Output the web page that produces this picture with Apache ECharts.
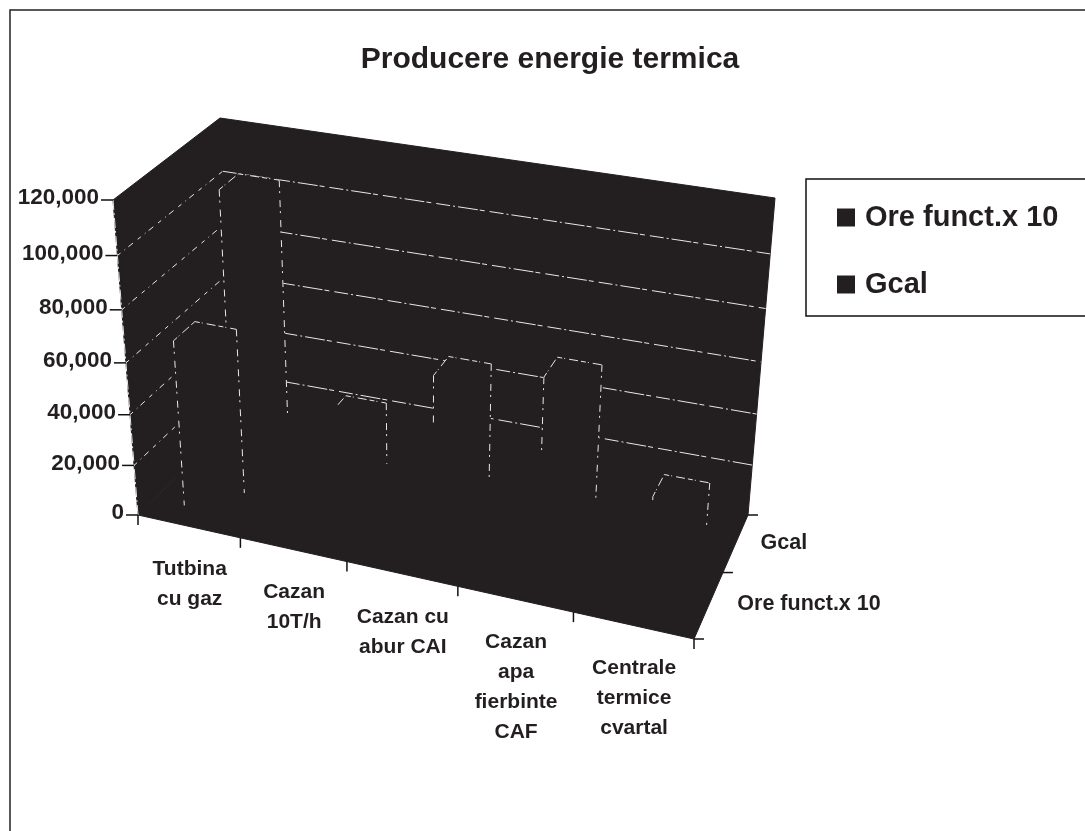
<!DOCTYPE html>
<html><head><meta charset="utf-8">
<style>html,body{margin:0;padding:0;background:#fff}#c{width:1085px;height:831px}</style>
<script src="https://cdn.jsdelivr.net/npm/echarts@6/dist/echarts.min.js"></script>
</head><body><div id="c"></div>
<script>
// ---- data ----
const categories = ['Tutbina\ncu gaz','Cazan\n10T/h','Cazan cu\nabur CAI','Cazan\napa\nfierbinte\nCAF','Centrale\ntermice\ncvartal'];
const seriesNames = ['Ore funct.x 10','Gcal'];
const oreValues  = [65000, 43000, 42000, 40000, 30000];
const gcalValues = [105000, 25000, 48000, 55000, 16800];
const oreOutlined  = [true, false, false, false, false];
const gcalOutlined = [true, true, true, true, true];
const valueTicks = [0,20000,40000,60000,80000,100000,120000];
const valueMax = 120000;

// ---- view of the 3-D box (camera, not data) ----
const view = {
  fl0:[138,515], fr0:[694,639], bl0:[235,420], br0:[748,515],
  fl1:[113,200], fr1:[718,308], bl1:[220,118], br1:[775,198]
};
const persp = (s,a)=> s*a/(1+(a-1)*s);
const mix = (p,q,t)=>[p[0]+(q[0]-p[0])*t, p[1]+(q[1]-p[1])*t];
function project(u,v,w){
  const fu = persp(u/categories.length,0.903), fv = persp(v/seriesNames.length,1.155), fw = persp(w/valueMax,0.934);
  const low = mix(mix(view.fl0,view.fr0,fu), mix(view.bl0,view.br0,fu), fv);
  const up  = mix(mix(view.fl1,view.fr1,fu), mix(view.bl1,view.br1,fu), fv);
  return mix(low,up,fw);
}
const INK = '#231f20', EDGE = '#e8e8e8';
const FONT = '"Liberation Sans", Arial, sans-serif';
const gap = 0.3;

function poly(api,pts,z){
  return {type:'polygon',shape:{points:pts.map(p=>api.coord(p))},style:{fill:INK,stroke:INK,lineWidth:1},z2:z||0};
}
function dashed(api,p,q,dash,w){
  const a=api.coord(p),b=api.coord(q);
  return {type:'line',shape:{x1:a[0],y1:a[1],x2:b[0],y2:b[1]},
    style:{stroke:EDGE,lineWidth:w||1,lineDash:dash||[5,2,1,4,9,3],fill:null},z2:5};
}
function barRender(row,values,outlined){
  return function(params,api){
    const i=params.dataIndex, val=api.value(1);
    const u0=i+gap,u1=i+1-gap,v0=row+gap,v1=row+1-gap;
    const b=(u,v)=>project(u,v,0), t=(u,v)=>project(u,v,val);
    const kids=[
      poly(api,[b(u0,v0),b(u0,v1),t(u0,v1),t(u0,v0)]),
      poly(api,[b(u0,v0),b(u1,v0),t(u1,v0),t(u0,v0)]),
      poly(api,[b(u1,v0),b(u1,v1),t(u1,v1),t(u1,v0)]),
      poly(api,[t(u0,v0),t(u1,v0),t(u1,v1),t(u0,v1)])
    ];
    if(outlined[i]){
      kids.push(dashed(api,t(u0,v0),t(u0,v1)));
      kids.push(dashed(api,t(u0,v1),t(u1,v1)));
      kids.push(dashed(api,t(u0,v0),b(u0,v0),[7,4,2,7]));
      kids.push(dashed(api,t(u1,v1),b(u1,v1),[7,4,2,7]));
    }
    return {type:'group',children:kids};
  };
}
function wallRender(params,api){
  const n=categories.length,d=seriesNames.length,M=valueMax;
  return {type:'group',children:[
    poly(api,[project(0,0,0),project(0,d,0),project(0,d,M),project(0,0,M)]),
    poly(api,[project(0,d,0),project(n,d,0),project(n,d,M),project(0,d,M)]),
    poly(api,[project(0,0,0),project(n,0,0),project(n,d,0),project(0,d,0)]),
    dashed(api,project(0,0,0),project(0,0,M),[10,3,2,3])
  ]};
}
function gridRender(params,api){
  const w=api.value(0),n=categories.length,d=seriesNames.length;
  return {type:'group',children:[
    dashed(api,project(0,0,w),project(0,d,w),[4,5,1,4,6,6]),
    dashed(api,project(0,d,w),project(n,d,w),[14,3,2,3,20,2,5,5])
  ]};
}
function axisRender(params,api){
  const n=categories.length,d=seriesNames.length,kids=[];
  const tick=(p,dx,dy)=>{const a=api.coord(p);return {type:'line',shape:{x1:a[0],y1:a[1],x2:a[0]+dx,y2:a[1]+dy},style:{stroke:'#111',lineWidth:1.5}};};
  const label=(p,dx,dy,text,align,size)=>{const a=api.coord(p);return {type:'text',x:a[0]+dx,y:a[1]+dy,
    style:{text:text,fill:INK,font:'bold '+size+'px '+FONT,align:align,verticalAlign:'middle',lineHeight:30}};};
  valueTicks.forEach(w=>{
    const p=project(0,0,w);
    kids.push(tick(p,-12,0));
    kids.push(label(p,-14,-2,w.toLocaleString('en-US'),'right',22.5));
  });
  for(let i=0;i<=n;i++) kids.push(tick(project(i,0,0),0,10));
  for(let i=0;i<=d;i++) kids.push(tick(project(n,i,0),10,0));
  categories.forEach((c,i)=>{
    const lines=c.split('\n').length;
    kids.push(label(project(i+0.5,0,0),1,43+(lines-1)*15,c,'center',21));
  });
  seriesNames.forEach((s,i)=>{
    const p=project(n,i+0.5,0);
    kids.push(label(p,i?48:100,0,s,'center',21.5));
  });
  return {type:'group',children:kids};
}
const chart=echarts.init(document.getElementById('c'),null,{renderer:'canvas'});
const base={type:'custom',coordinateSystem:'cartesian2d',silent:true,clip:false,animation:false};
chart.setOption({
  animation:false,
  backgroundColor:'#fff',
  title:{text:'Producere energie termica',left:545,textAlign:'center',top:40,
    textStyle:{fontFamily:FONT,fontWeight:'bold',fontSize:30,color:INK}},
  legend:{data:seriesNames,orient:'vertical',left:806,top:179,
    padding:[24,40,17,31],itemGap:38,itemWidth:18,itemHeight:18,
    icon:'rect',borderColor:'#111',borderWidth:1.5,backgroundColor:'#fff',
    selectedMode:false,
    textStyle:{fontFamily:FONT,fontWeight:'bold',fontSize:29,color:INK,padding:[0,0,0,5]}},
  grid:{left:0,right:0,top:0,bottom:0},
  xAxis:{type:'value',min:0,max:1085,show:false},
  yAxis:{type:'value',min:0,max:831,inverse:true,show:false},
  graphic:[{type:'rect',shape:{x:10,y:10,width:1200,height:1000},style:{fill:'none',stroke:'#222',lineWidth:1.5},z:-1}],
  series:[
    Object.assign({},base,{name:'walls',data:[[0]],renderItem:wallRender,z:2}),
    Object.assign({},base,{name:'grid',data:valueTicks.slice(1,-1).map(w=>[w]),renderItem:gridRender,z:3}),
    Object.assign({},base,{name:seriesNames[1],data:gcalValues.map((v,i)=>[i,v]),renderItem:barRender(1,gcalValues,gcalOutlined),itemStyle:{color:INK},z:4}),
    Object.assign({},base,{name:seriesNames[0],data:oreValues.map((v,i)=>[i,v]),renderItem:barRender(0,oreValues,oreOutlined),itemStyle:{color:INK},z:5}),
    Object.assign({},base,{name:'axes',data:[[0]],renderItem:axisRender,z:6})
  ]
});
</script></body></html>
